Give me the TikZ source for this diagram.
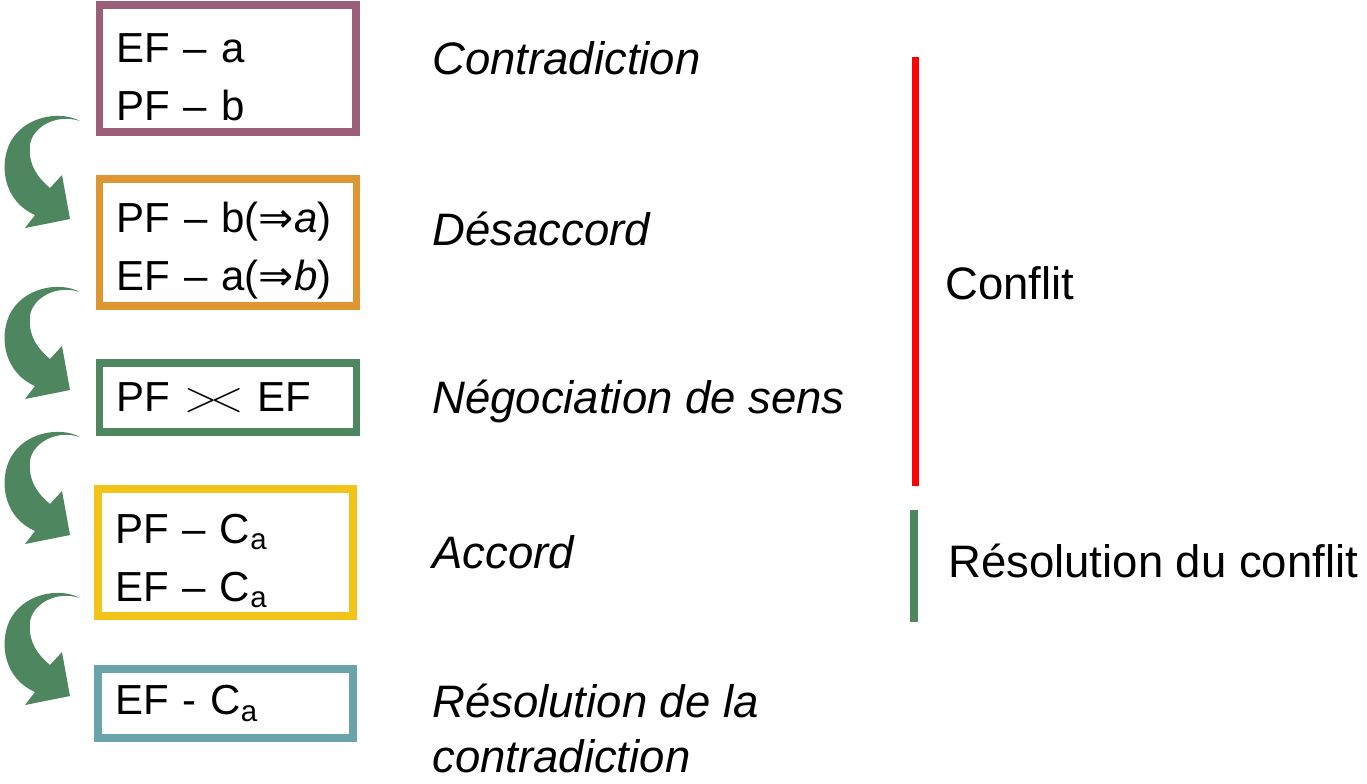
\documentclass[tikz,border=0pt]{standalone}
\usepackage{fontspec}
\setmainfont{Liberation Sans}
\newfontfamily\arrowfont{DejaVu Sans}
\usetikzlibrary{positioning}

\definecolor{boxpurple}{HTML}{9B5F7C}
\definecolor{boxorange}{HTML}{DD9631}
\definecolor{boxgreen}{HTML}{4E8660}
\definecolor{boxyellow}{HTML}{F2C419}
\definecolor{boxteal}{HTML}{6AA3AA}
\definecolor{conflictred}{HTML}{FF0000}

\newcommand{\boxfont}{\fontsize{23.9}{33}\selectfont}
\newcommand{\stagefont}{\fontsize{25.9}{31.3}\selectfont}
\newcommand{\impl}[1]{({\arrowfont ⇒}\textit{#1})}
\newcommand{\topstrut}{\rule{0pt}{0.93cm}}
\newcommand{\versus}{{\fontsize{27.5}{33}\selectfont$>\mkern-3mu<$}}

\begin{document}
\begin{tikzpicture}[x=0.02cm, y=-0.02cm,
    stagebox/.style={draw, line width=0.15cm, inner xsep=0.34cm, inner ysep=0pt,
        text width=4.46cm, align=left, font=\boxfont},
    tall/.style={minimum height=2.54cm},
    flat/.style={minimum height=1.38cm},
    stagename/.style={anchor=base west, inner sep=0pt, align=left, font=\stagefont\itshape},
    phase/.style={anchor=base west, inner sep=0pt, font=\stagefont}]
        \useasboundingbox (0,0) rectangle (1367,784);

        % Boxes
        \node[stagebox, tall, boxpurple] (contra) at (227.75,68.5)
            {\color{black}\topstrut EF -- a\\PF -- b};
        \node[stagebox, tall, boxorange] (desac) at (228,242.5)
            {\color{black}\topstrut PF -- b\impl{a}\\EF -- a\impl{b}};
        \node[stagebox, flat, boxgreen] (nego) at (228,397.5)
            {\color{black}PF \versus{} EF};
        \node[stagebox, tall, boxyellow, text width=4.42cm] (accord) at (225.5,552.5)
            {\color{black}\topstrut PF -- C\textsubscript{a}\\EF -- C\textsubscript{a}};
        \node[stagebox, flat, boxteal, text width=4.42cm] (resol) at (225.5,703.5)
            {\color{black}EF - C\textsubscript{a}};

        % Curved arrows between the boxes
        \foreach \dy in {0,171,316,477}
            \fill[boxgreen, shift={(0,\dy)}] (80,121)
                .. controls (60,110) and (22,116) .. (9,145)
                .. controls (-1,168) and (5,202) .. (35,215)
                -- (25,228) -- (70,219) -- (62,175) -- (50,188)
                .. controls (38,178) and (28,165) .. (30,145)
                .. controls (32,128) and (55,113) .. (80,121) -- cycle;

        % Stage names
        \node[stagename] (ncontra) at (432,75) {Contradiction};
        \node[stagename] (ndesac) at (432,245) {Désaccord};
        \node[stagename] (nnego) at (432,413) {Négociation de sens};
        \node[stagename] (naccord) at (432,568) {Accord};
        \node[stagename] (nresol) at (432,772) {Résolution de la\\contradiction};

        % Phases
        \coordinate (redtop) at (915.5,57);
        \coordinate (redbot) at (915.5,486);
        \coordinate (greentop) at (914,510);
        \coordinate (greenbot) at (914,622);
        \draw[conflictred, line width=0.14cm] (redtop) -- (redbot);
        \draw[boxgreen, line width=0.15cm] (greentop) -- (greenbot);
        \node[phase] (conflit) at (945,299) {Conflit};
        \node[phase] (resconf) at (948,577) {Résolution du conflit};
    \end{tikzpicture}
\end{document}
